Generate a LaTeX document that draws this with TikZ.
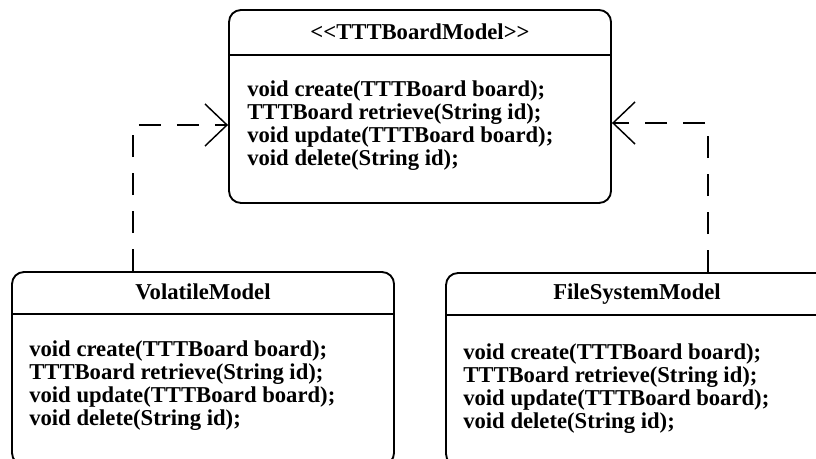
\documentclass[tikz,border=0pt]{standalone}
\usepackage{fontspec}
\setmainfont{Liberation Serif}
\usetikzlibrary{arrows.meta}
\newcommand{\umlmethods}[3]{%
  \node[meth] (#1-1) at (#2,#3) {void create(TTTBoard board);};
  \node[meth] (#1-2) at (#2,#3+23) {TTTBoard retrieve(String id);};
  \node[meth] (#1-3) at (#2,#3+46) {void update(TTTBoard board);};
  \node[meth] (#1-4) at (#2,#3+69) {void delete(String id);};
}
\begin{document}
\begin{tikzpicture}[x=0.75pt,y=-0.75pt,
  cls/.style={draw, line width=1.4pt, rounded corners=9pt, minimum width=286.5pt, minimum height=144.75pt, inner sep=0pt},
  divider/.style={line width=1.4pt},
  ttl/.style={font=\bfseries\fontsize{17}{17}\selectfont, anchor=base, inner sep=0pt},
  meth/.style={font=\bfseries\fontsize{17}{17}\selectfont, anchor=base west, inner sep=0pt},
  dep/.style={line width=1.1pt, dash pattern=on 16.5pt off 12pt, -{Straight Barb[length=16.5pt,width=31.5pt,line width=1.1pt]}}
]
\fill[white] (0,0) rectangle (816,459);
\useasboundingbox (0,0) rectangle (816,459);

% interface box
\node[cls] (top) at (420,106.5) {};
\draw[divider] (top.west |- 0,55) -- (top.east |- 0,55);
\node[ttl] (toptitle) at (420,40) {<{}<TTTBoardModel>{}>};
\umlmethods{topm}{247}{97}

% VolatileModel
\node[cls] (vol) at (203,368.5) {};
\draw[divider] (vol.west |- 0,314) -- (vol.east |- 0,314);
\node[ttl] (voltitle) at (203,299) {VolatileModel};
\umlmethods{volm}{29}{356}

% FileSystemModel
\node[cls] (fs) at (637,369.5) {};
\draw[divider] (fs.west |- 0,315) -- (fs.east |- 0,315);
\node[ttl] (fstitle) at (637,300) {FileSystemModel};
\umlmethods{fsm}{463}{359}

% dependencies
\coordinate (k1) at (133,125);
\coordinate (k2) at (708,123);
\draw[dep] (k1 |- vol.north) -- (k1) -- (k1 -| top.west);
\draw[dep] (k2 |- fs.north) -- (k2) -- (k2 -| top.east);
\end{tikzpicture}
\end{document}
